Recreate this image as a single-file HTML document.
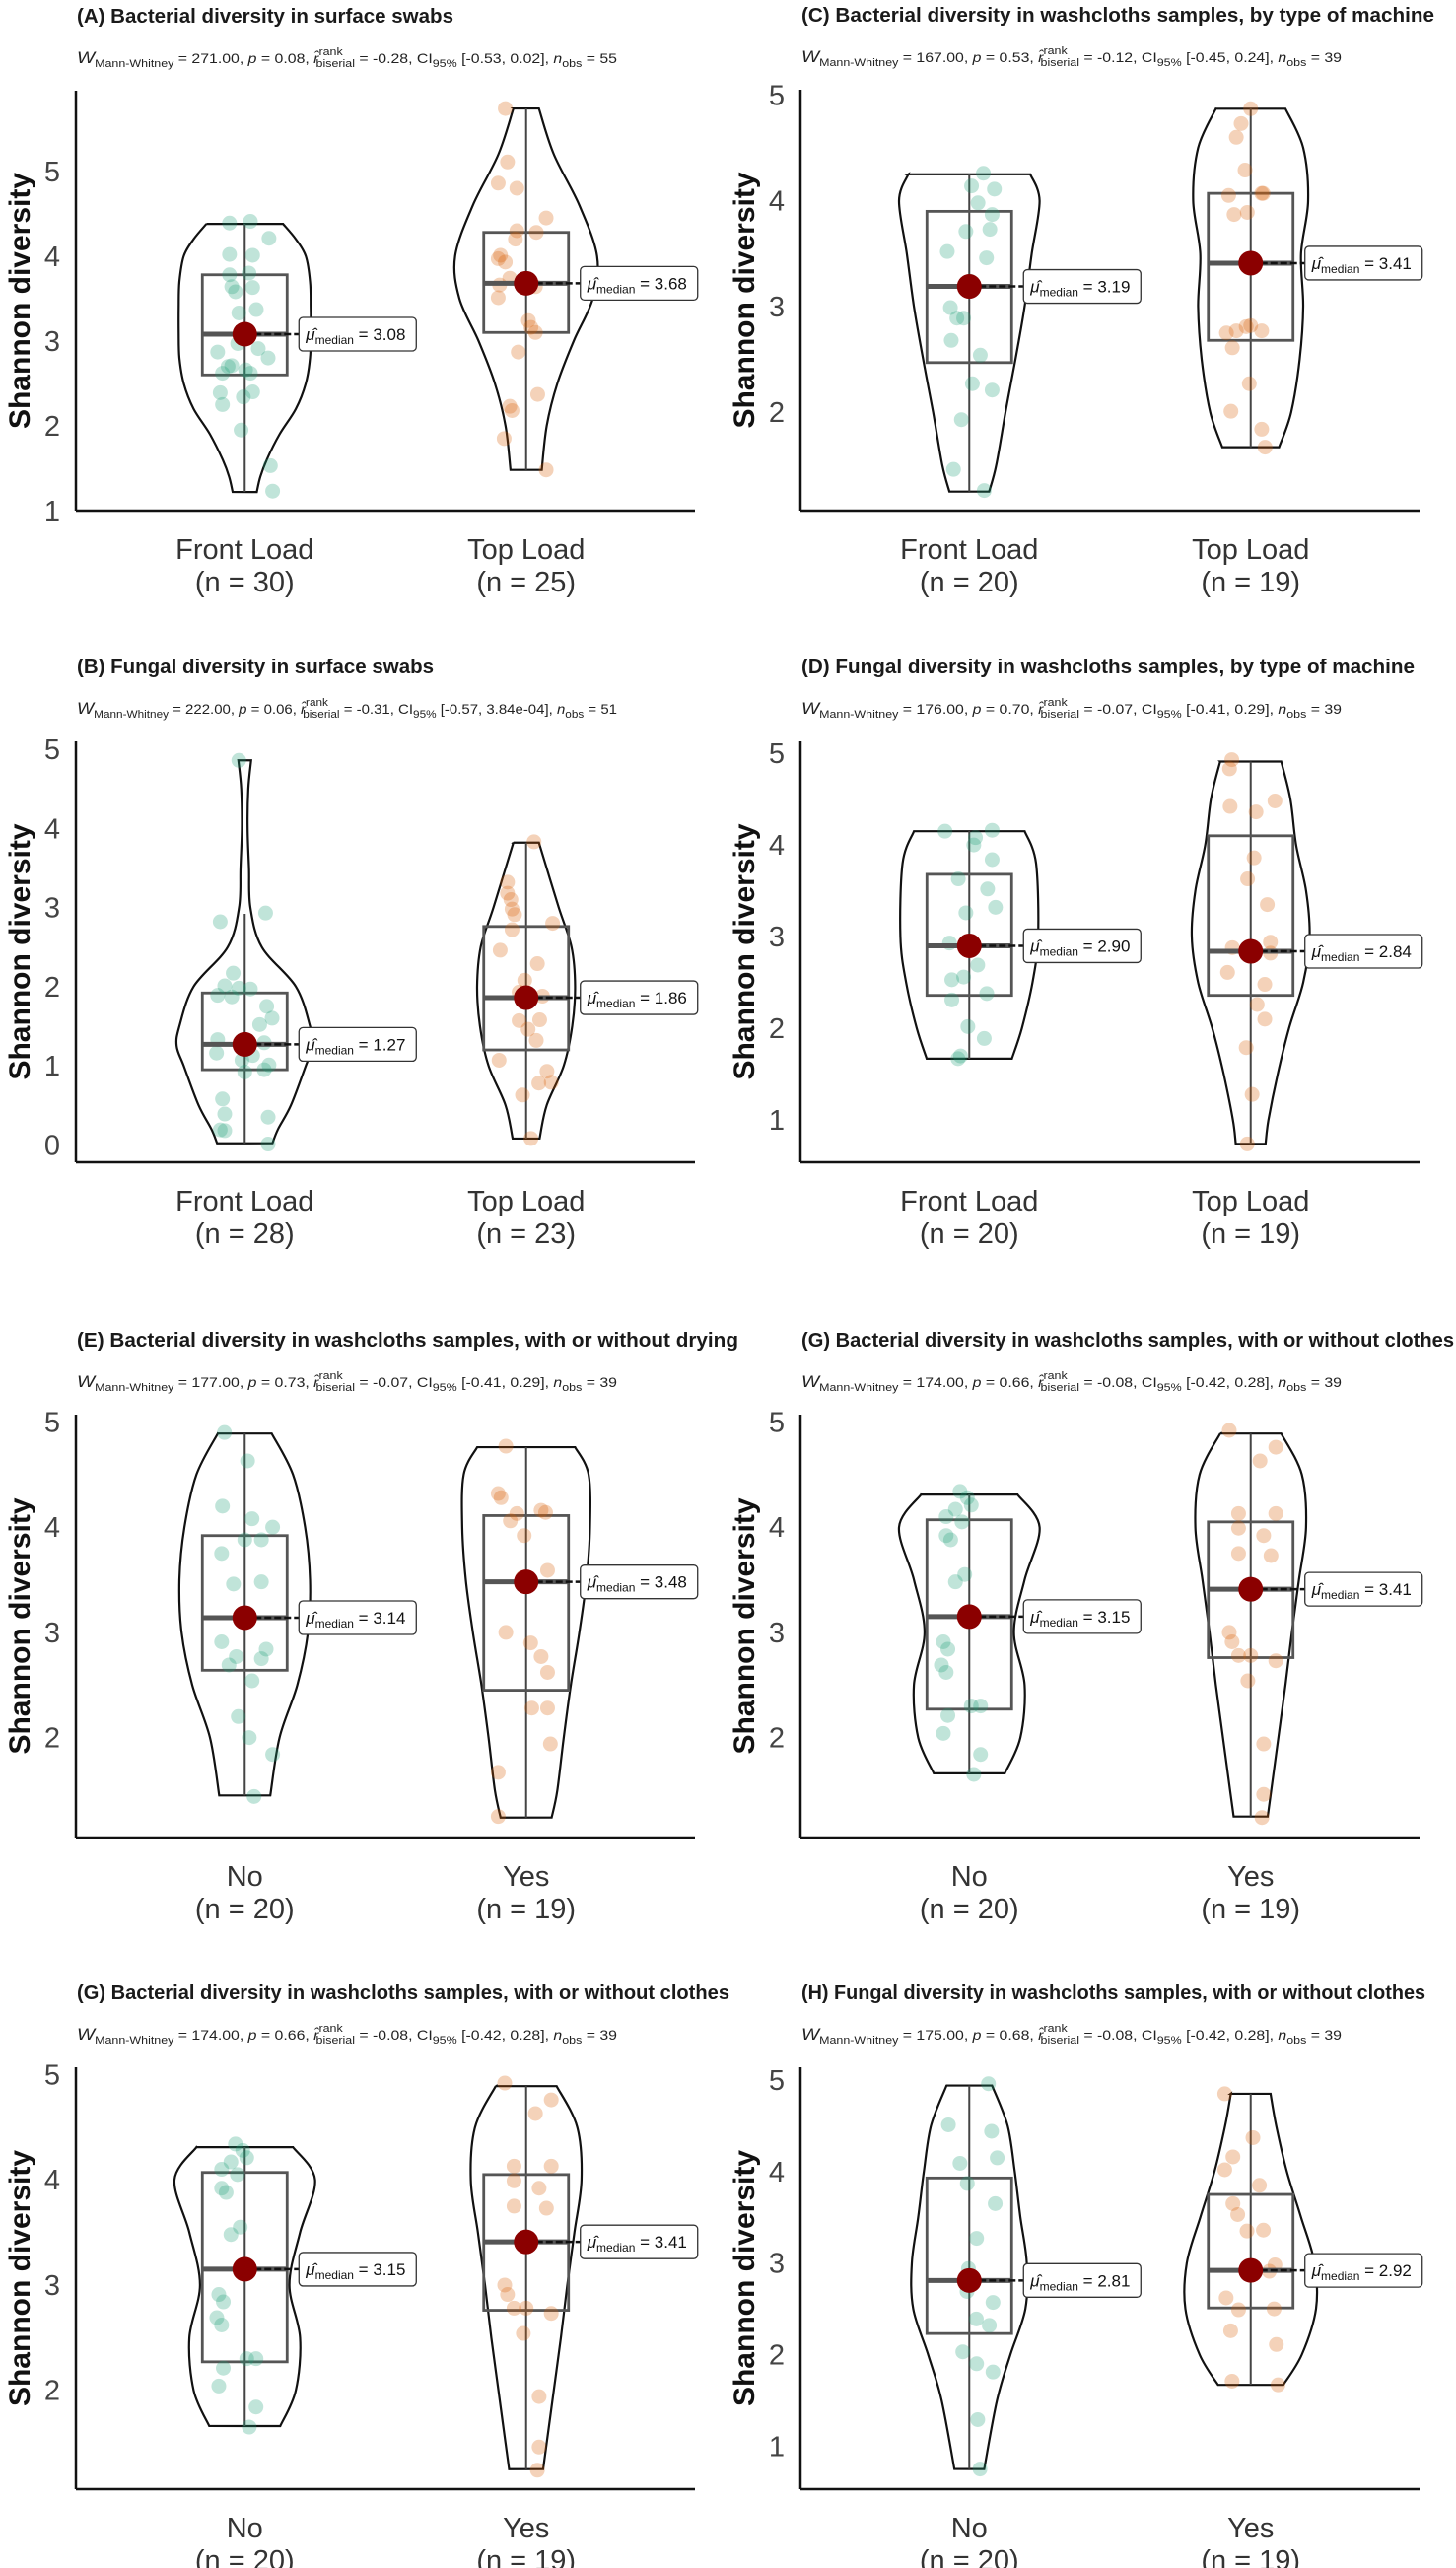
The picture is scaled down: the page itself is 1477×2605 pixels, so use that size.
<!DOCTYPE html>
<html><head><meta charset="utf-8"><title>Shannon diversity violin plots</title>
<style>
html,body{margin:0;padding:0;background:#fff;}
svg{display:block;font-family:"Liberation Sans",sans-serif;}
</style></head>
<body>
<svg id="fig" xmlns="http://www.w3.org/2000/svg" width="1477" height="2605" viewBox="0 0 1477 2605"></svg>
<script>
// ---------- DATA ----------
const A_cats=['Front Load','Top Load']; const A_n=[30,25];
const A_stats=['271.00','0.08','-0.28','-0.53','0.02','55'];
const A_g1_vals=[4.39,4.41,4.21,4.02,4.01,3.78,3.80,3.64,3.63,3.58,3.37,2.87,2.97,2.91,2.80,2.70,2.62,2.62,2.39,2.25,2.34,2.40,1.95,1.53,1.23,3.33,2.66,2.71];
const A_g1_jit=[-0.054,0.02,0.086,-0.054,0.028,-0.054,0.015,-0.046,0.028,-0.033,0.041,-0.096,-0.025,0.048,0.083,-0.059,-0.079,0.02,-0.087,-0.079,-0.005,0.028,-0.013,0.091,0.099,-0.021,0.003,-0.046];
const A_g1_box=[1.22,2.6,3.08,3.78,4.38];
const A_g1_vv=[4.38,4.2,4.0,3.7,3.4,3.1,2.8,2.5,2.2,1.9,1.6,1.4,1.22];
const A_g1_vw=[0.54,0.72,0.86,0.92,0.93,0.93,0.92,0.86,0.72,0.49,0.31,0.22,0.17];
const A_g2_vals=[5.74,5.11,4.86,4.80,4.45,4.30,4.28,4.20,4.01,3.93,3.97,3.66,3.51,3.64,3.24,3.16,3.10,2.87,2.37,2.23,2.18,1.85,1.48,3.74];
const A_g2_jit=[-0.074,-0.066,-0.099,-0.033,0.071,-0.033,0.036,-0.038,-0.091,-0.074,-0.099,-0.094,-0.099,0.033,0.008,0.017,0.033,-0.028,0.041,-0.058,-0.05,-0.078,0.071,-0.058];
const A_g2_box=[1.48,3.1,3.68,4.28,5.74];
const A_g2_vv=[5.74,5.2,4.6,4.0,3.5,3.0,2.5,2.0,1.48];
const A_g2_vw=[0.18,0.39,0.75,1,0.94,0.67,0.44,0.29,0.22];

const B_cats=['Front Load','Top Load']; const B_n=[28,23];
const B_stats=['222.00','0.06','-0.31','-0.57','3.84e-04','51'];
const B_g1_vals=[4.86,2.82,2.93,2.17,2.01,1.98,1.97,1.89,1.87,1.75,1.6,1.52,1.33,1.29,1.13,1.07,1.16,1.01,0.92,0.95,0.58,0.39,0.35,0.19,0.18,0.01];
const B_g1_jit=[-0.021,-0.087,0.074,-0.041,-0.071,-0.021,0.02,-0.096,-0.046,0.078,0.097,0.053,-0.096,0.069,0.028,-0.01,-0.1,0.086,0,0.069,-0.079,-0.071,0.083,-0.087,-0.071,0.083];
const B_g1_box=[0.02,0.95,1.27,1.92,2.92];
const B_g1_vv=[4.86,4.5,4.0,3.5,3.0,2.5,2.0,1.5,1.25,1.0,0.5,0.2,0.02];
const B_g1_vw=[0.09,0.05,0.04,0.06,0.08,0.24,0.72,0.92,0.96,0.86,0.65,0.47,0.39];
const B_g2_vals=[3.83,3.32,3.18,2.98,2.91,2.72,2.8,2.46,2.29,2.08,1.88,1.57,1.58,1.46,1.32,1.07,0.93,0.79,0.78,0.63,0.08,1.93,3.1];
const B_g2_jit=[0.028,-0.066,-0.066,-0.05,-0.041,-0.05,0.094,-0.092,0.04,-0.005,0.058,-0.025,0.048,0.007,0.036,-0.096,0.074,0.089,0.045,-0.013,0.017,-0.025,-0.054];
const B_g2_box=[0.08,1.2,1.86,2.76,3.82];
const B_g2_vv=[3.82,3.0,2.5,2.0,1.5,1.0,0.5,0.08];
const B_g2_vw=[0.18,0.46,0.64,0.69,0.65,0.53,0.29,0.19];

const C_cats=['Front Load','Top Load']; const C_n=[20,19];
const C_stats=['167.00','0.53','-0.12','-0.45','0.24','39'];
const C_g1_vals=[4.26,4.14,4.11,3.98,3.87,3.71,3.73,3.52,3.46,2.99,2.89,2.89,2.68,2.54,2.27,2.21,1.93,1.46,1.26,3.24];
const C_g1_jit=[0.05,0.008,0.089,0.031,0.081,-0.012,0.073,-0.078,0.061,-0.067,-0.044,-0.02,-0.064,0.039,0.011,0.081,-0.028,-0.056,0.053,0.003];
const C_g1_box=[1.25,2.47,3.19,3.9,4.25];
const C_g1_vv=[4.25,4.0,3.5,3.0,2.5,2.0,1.5,1.25];
const C_g1_vw=[0.86,0.99,0.88,0.78,0.65,0.51,0.38,0.28];
const C_g2_vals=[4.87,4.73,4.6,4.29,4.07,4.05,3.87,3.89,2.81,2.75,2.77,2.82,2.77,2.61,2.27,2.01,1.84,1.67,4.07];
const C_g2_jit=[0,-0.034,-0.051,-0.02,0.044,-0.078,-0.059,-0.012,-0.016,-0.086,-0.051,0,0.039,-0.065,-0.005,-0.07,0.039,0.051,0.039];
const C_g2_box=[1.67,2.68,3.41,4.07,4.87];
const C_g2_vv=[4.87,4.5,4.0,3.5,3.0,2.5,2.0,1.67];
const C_g2_vw=[0.49,0.74,0.81,0.71,0.74,0.69,0.57,0.4];

const D_cats=['Front Load','Top Load']; const D_n=[20,19];
const D_stats=['176.00','0.70','-0.07','-0.41','0.29','39'];
const D_g1_vals=[4.15,4.16,4.08,4.0,3.84,3.63,3.52,3.32,3.26,2.93,2.69,2.56,2.53,2.38,2.31,2.02,1.89,1.67,1.7];
const D_g1_jit=[-0.086,0.081,0.022,0.016,0.081,-0.039,0.065,0.093,-0.012,-0.07,0.03,-0.02,-0.062,0.062,-0.062,-0.005,0.053,-0.04,-0.031];
const D_g1_box=[1.67,2.36,2.90,3.68,4.15];
const D_g1_vv=[4.15,3.8,3.0,2.5,2.0,1.67];
const D_g1_vw=[0.78,0.94,0.97,0.89,0.74,0.6];
const D_g2_vals=[4.93,4.83,4.42,4.36,4.48,3.86,3.63,3.35,2.88,2.94,2.82,2.61,2.48,2.26,2.1,1.79,1.28,0.74];
const D_g2_jit=[-0.067,-0.075,-0.073,0.019,0.086,0.012,-0.011,0.059,-0.065,0.07,0.07,-0.082,0.05,0.023,0.05,-0.016,0.005,-0.012];
const D_g2_box=[0.74,2.36,2.84,4.1,4.91];
const D_g2_vv=[4.91,4.5,4.0,3.5,3.0,2.5,2.0,1.5,1.0,0.74];
const D_g2_vw=[0.43,0.56,0.64,0.78,0.83,0.74,0.54,0.38,0.25,0.21];

const E_cats=['No','Yes']; const E_n=[20,19];
const E_stats=['177.00','0.73','-0.07','-0.41','0.29','39'];
const E_g1_vals=[4.9,4.63,4.2,4.08,4.0,3.88,3.88,3.75,3.46,3.48,2.91,2.84,2.77,2.75,2.69,2.54,2.2,2.0,1.84,1.44];
const E_g1_jit=[-0.072,0.01,-0.079,0.026,0.099,0,0.059,-0.082,-0.04,0.059,-0.082,0.076,-0.03,0.059,-0.056,0.026,-0.023,0.016,0.099,0.033];
const E_g1_box=[1.45,2.64,3.14,3.92,4.89];
const E_g1_vv=[4.89,4.5,4.0,3.5,3.0,2.5,2.0,1.45];
const E_g1_vw=[0.38,0.68,0.85,0.92,0.89,0.74,0.49,0.36];
const E_g2_vals=[4.77,4.32,4.28,4.16,4.14,4.13,4.06,3.92,3.59,3.0,2.9,2.77,2.62,2.28,2.28,1.94,1.67,1.25,3.52];
const E_g2_jit=[-0.072,-0.099,-0.089,0.053,0.069,-0.033,-0.056,-0.007,0.076,-0.072,0.016,0.053,0.076,0.02,0.076,0.086,-0.099,-0.099,-0.013];
const E_g2_box=[1.24,2.45,3.48,4.11,4.76];
const E_g2_vv=[4.76,4.5,4.0,3.5,3.0,2.5,2.0,1.5,1.24];
const E_g2_vw=[0.69,0.88,0.9,0.85,0.75,0.63,0.53,0.44,0.36];

const G_cats=['No','Yes']; const G_n=[20,19];
const G_stats=['174.00','0.66','-0.08','-0.42','0.28','39'];
const G_g1_vals=[4.34,4.28,4.17,4.21,4.1,4.05,3.92,3.88,3.55,3.48,2.91,2.84,2.69,2.62,2.3,2.3,2.21,2.04,1.84,1.65];
const G_g1_jit=[-0.033,-0.007,-0.049,0.007,-0.082,-0.026,-0.082,-0.066,-0.016,-0.049,-0.092,-0.076,-0.099,-0.082,0.007,0.04,-0.076,-0.092,0.04,0.016];
const G_g1_box=[1.66,2.27,3.15,4.07,4.31];
const G_g1_vv=[4.31,4.0,3.5,3.0,2.5,2.0,1.66];
const G_g1_vw=[0.68,0.99,0.78,0.63,0.78,0.72,0.5];
const G_g2_vals=[4.92,4.76,4.63,4.13,4.13,3.99,3.92,3.75,3.73,3.0,2.91,2.78,2.78,2.73,2.54,1.94,1.46,1.24];
const G_g2_jit=[-0.076,0.089,0.033,-0.043,0.089,-0.043,0.046,-0.043,0.072,-0.076,-0.066,-0.043,0,0.089,-0.01,0.046,0.046,0.04];
const G_g2_box=[1.25,2.76,3.41,4.05,4.89];
const G_g2_vv=[4.89,4.5,4.0,3.5,3.0,2.5,2.0,1.5,1.25];
const G_g2_vw=[0.43,0.72,0.78,0.68,0.58,0.49,0.39,0.29,0.24];

const H_cats=['No','Yes']; const H_n=[20,19];
const H_stats=['175.00','0.68','-0.08','-0.42','0.28','39'];
const H_g1_vals=[4.96,4.51,4.44,4.15,4.09,3.87,3.65,3.27,2.69,2.57,2.39,2.32,2.03,1.9,1.81,1.29,0.75,2.94];
const H_g1_jit=[0.068,-0.074,0.079,0.099,-0.033,-0.007,0.092,0.026,-0.008,0.084,0.025,0.071,-0.023,0.026,0.084,0.03,0.038,-0.003];
const H_g1_box=[0.75,2.23,2.81,3.93,4.94];
const H_g1_vv=[4.94,4.5,4.0,3.5,3.0,2.5,2.0,1.5,0.75];
const H_g1_vw=[0.32,0.54,0.64,0.72,0.81,0.79,0.58,0.39,0.21];
const H_g2_vals=[4.85,4.37,4.16,4.02,3.85,3.65,3.53,3.35,3.36,2.98,2.91,2.62,2.49,2.5,2.26,2.11,1.71,1.67,2.97];
const H_g2_jit=[-0.092,0.008,-0.063,-0.092,0.031,-0.063,-0.046,-0.013,0.045,0.086,0.066,-0.087,-0.043,0.083,-0.071,0.091,-0.066,0.097,0];
const H_g2_box=[1.67,2.51,2.92,3.75,4.85];
const H_g2_vv=[4.85,4.5,4.0,3.5,3.0,2.5,2.0,1.67];
const H_g2_vw=[0.28,0.36,0.51,0.71,0.9,0.92,0.72,0.46];

// ---------- LAYOUT ----------
const panels=[
 {id:'a',title:'(A) Bacterial diversity in surface swabs',tw:382,x0:77,x1:705,yT:92,yB:518,dom:[1.0,5.95],ticks:[1,2,3,4,5],cats:A_cats,n:A_n,stats:A_stats,
  g:[[A_g1_vals,A_g1_jit,A_g1_box,A_g1_vv,A_g1_vw],[A_g2_vals,A_g2_jit,A_g2_box,A_g2_vv,A_g2_vw]]},
 {id:'c',title:'(C) Bacterial diversity in washcloths samples, by type of machine',tw:642,x0:812,x1:1440,yT:91,yB:518,dom:[1.07,5.05],ticks:[2,3,4,5],cats:C_cats,n:C_n,stats:C_stats,
  g:[[C_g1_vals,C_g1_jit,C_g1_box,C_g1_vv,C_g1_vw],[C_g2_vals,C_g2_jit,C_g2_box,C_g2_vv,C_g2_vw]]},
 {id:'b',title:'(B) Fungal diversity in surface swabs',tw:362,x0:77,x1:705,yT:752,yB:1179,dom:[-0.22,5.1],ticks:[0,1,2,3,4,5],cats:B_cats,n:B_n,stats:B_stats,
  g:[[B_g1_vals,B_g1_jit,B_g1_box,B_g1_vv,B_g1_vw],[B_g2_vals,B_g2_jit,B_g2_box,B_g2_vv,B_g2_vw]]},
 {id:'d',title:'(D) Fungal diversity in washcloths samples, by type of machine',tw:622,x0:812,x1:1440,yT:752,yB:1179,dom:[0.54,5.13],ticks:[1,2,3,4,5],cats:D_cats,n:D_n,stats:D_stats,
  g:[[D_g1_vals,D_g1_jit,D_g1_box,D_g1_vv,D_g1_vw],[D_g2_vals,D_g2_jit,D_g2_box,D_g2_vv,D_g2_vw]]},
 {id:'e',title:'(E) Bacterial diversity in washcloths samples, with or without drying',tw:671,x0:77,x1:705,yT:1435,yB:1864,dom:[1.05,5.07],ticks:[2,3,4,5],cats:E_cats,n:E_n,stats:E_stats,
  g:[[E_g1_vals,E_g1_jit,E_g1_box,E_g1_vv,E_g1_vw],[E_g2_vals,E_g2_jit,E_g2_box,E_g2_vv,E_g2_vw]]},
 {id:'g-top',title:'(G) Bacterial diversity in washcloths samples, with or without clothes',tw:662,x0:812,x1:1440,yT:1435,yB:1864,dom:[1.05,5.07],ticks:[2,3,4,5],cats:G_cats,n:G_n,stats:G_stats,
  g:[[G_g1_vals,G_g1_jit,G_g1_box,G_g1_vv,G_g1_vw],[G_g2_vals,G_g2_jit,G_g2_box,G_g2_vv,G_g2_vw]]},
 {id:'g',title:'(G) Bacterial diversity in washcloths samples, with or without clothes',tw:662,x0:77,x1:705,yT:2097,yB:2525,dom:[1.06,5.07],ticks:[2,3,4,5],cats:G_cats,n:G_n,stats:G_stats,
  g:[[G_g1_vals,G_g1_jit,G_g1_box,G_g1_vv,G_g1_vw],[G_g2_vals,G_g2_jit,G_g2_box,G_g2_vv,G_g2_vw]]},
 {id:'h',title:'(H) Fungal diversity in washcloths samples, with or without clothes',tw:633,x0:812,x1:1440,yT:2097,yB:2525,dom:[0.53,5.14],ticks:[1,2,3,4,5],cats:H_cats,n:H_n,stats:H_stats,
  g:[[H_g1_vals,H_g1_jit,H_g1_box,H_g1_vv,H_g1_vw],[H_g2_vals,H_g2_jit,H_g2_box,H_g2_vv,H_g2_vw]]}
];
const COLORS=['#1b9e77','#d95f02'];
const VH=72, BOXW=43, CAT_PX=286;

const NS='http://www.w3.org/2000/svg';
const svg=document.getElementById('fig');
function mk(tag,attrs,parent){const e=document.createElementNS(NS,tag);for(const k in attrs)e.setAttribute(k,attrs[k]);(parent||svg).appendChild(e);return e;}
function smooth(pts){let d='';for(let i=0;i<pts.length-1;i++){const p0=pts[Math.max(0,i-1)],p1=pts[i],p2=pts[i+1],p3=pts[Math.min(pts.length-1,i+2)];
 const c1=[p1[0]+(p2[0]-p0[0])/6,p1[1]+(p2[1]-p0[1])/6],c2=[p2[0]-(p3[0]-p1[0])/6,p2[1]-(p3[1]-p1[1])/6];
 d+=` C${c1[0].toFixed(1)},${c1[1].toFixed(1)} ${c2[0].toFixed(1)},${c2[1].toFixed(1)} ${p2[0].toFixed(1)},${p2[1].toFixed(1)}`;}return d;}

panels.forEach(P=>{
 const g=mk('g',{});
 
 
 const y=v=>P.yB-(v-P.dom[0])/(P.dom[1]-P.dom[0])*(P.yB-P.yT);
 const xc=i=>P.x0+(P.x1-P.x0)*((i+1-0.4)/2.2);
 // title
 const t=mk('text',{x:P.x0+1,y:P.yT-69,'font-size':20,'font-weight':'bold',fill:'#1a1a1a',textLength:P.tw,lengthAdjust:'spacingAndGlyphs'},g);
 t.textContent=P.title;
 
 
 // subtitle
 const s=P.stats;
 const st=mk('text',{x:P.x0+1,y:P.yT-28,'font-size':14,fill:'#222',textLength:548,lengthAdjust:'spacingAndGlyphs'},g);
 
 
 st.innerHTML=`<tspan font-style="italic" font-size="17">W</tspan><tspan font-size="11" dy="4">Mann-Whitney</tspan><tspan dy="-4"> = ${s[0]}, </tspan><tspan font-style="italic">p</tspan><tspan> = ${s[1]}, </tspan><tspan font-style="italic">r̂</tspan><tspan font-size="11" dy="-8">rank</tspan><tspan font-size="11" dx="-24" dy="12">biserial</tspan><tspan dy="-4"> = ${s[2]}, CI</tspan><tspan font-size="11" dy="4">95%</tspan><tspan dy="-4"> [${s[3]}, ${s[4]}], </tspan><tspan font-style="italic">n</tspan><tspan font-size="11" dy="4">obs</tspan><tspan dy="-4"> = ${s[5]}</tspan>`;
 // axes
 const ya=mk('line',{x1:P.x0,y1:P.yT,x2:P.x0,y2:P.yB,stroke:'#111','stroke-width':2.5},g);
 
 
 const xa=mk('line',{x1:P.x0,y1:P.yB,x2:P.x1,y2:P.yB,stroke:'#111','stroke-width':2.5},g);
 
 
 P.ticks.forEach(tv=>{
  const tl=mk('text',{x:P.x0-16,y:y(tv)+10,'font-size':29,fill:'#444','text-anchor':'end'},g);
  tl.textContent=tv;
  
  
 });
 const yt=mk('text',{x:0,y:0,'font-size':30,'font-weight':'bold',fill:'#111','text-anchor':'middle',transform:`translate(${P.x0-47},${(P.yT+P.yB)/2}) rotate(-90)`},g);
 yt.textContent='Shannon diversity';
 
 
 P.cats.forEach((c,i)=>{
  const l1=mk('text',{x:xc(i),y:P.yB+49,'font-size':29,fill:'#333','text-anchor':'middle'},g);
  l1.textContent=c;
  
  
  const l2=mk('text',{x:xc(i),y:P.yB+82,'font-size':29,fill:'#333','text-anchor':'middle'},g);
  l2.textContent='(n = '+P.n[i]+')';
  
  
 });
 P.g.forEach((G,i)=>{
  const [vals,jit,box,vv,vw]=G; const cx=xc(i);
  const right=vv.map((v,k)=>[cx+vw[k]*VH,y(v)]);
  const left=vv.map((v,k)=>[cx-vw[k]*VH,y(v)]).reverse();
  const d=`M${left[left.length-1][0]},${left[left.length-1][1]} L${right[0][0]},${right[0][1]}`+smooth(right)+` L${left[0][0]},${left[0][1]}`+smooth(left)+' Z';
  const vp=mk('path',{d:d,fill:'#fff',stroke:'#111','stroke-width':2.2},g);
  
  
  const w1=mk('line',{x1:cx,y1:y(box[0]),x2:cx,y2:y(box[4]),stroke:'#444','stroke-width':2},g);
  
  
  const bx=mk('rect',{x:cx-BOXW,y:y(box[3]),width:2*BOXW,height:y(box[1])-y(box[3]),fill:'#fff','fill-opacity':0,stroke:'#555','stroke-width':2.8},g);
  
  
  vals.forEach((v,k)=>{
   const pt=mk('circle',{cx:cx+jit[k]*CAT_PX,cy:y(v),r:7.5,fill:COLORS[i],'fill-opacity':0.28},g);
   
   
  });
  const ml=mk('line',{x1:cx-BOXW,y1:y(box[2]),x2:cx+BOXW,y2:y(box[2]),stroke:'#555','stroke-width':5},g);
  
  
  const dl=mk('line',{x1:cx,y1:y(box[2]),x2:cx+55,y2:y(box[2]),stroke:'#111','stroke-width':2.5,'stroke-dasharray':'7,3'},g);
  
  
  const dot=mk('circle',{cx:cx,cy:y(box[2]),r:12.5,fill:'#8b0000'},g);
  
  
  const lb=mk('rect',{x:cx+55,y:y(box[2])-17,width:119,height:34,rx:4,fill:'#fff',stroke:'#333','stroke-width':1.3},g);
  
  
  const lt=mk('text',{x:cx+62,y:y(box[2])+6,'font-size':17,fill:'#111'},g);
  
  
  lt.innerHTML=`<tspan font-style="italic">μ̂</tspan><tspan font-size="12" dy="4">median</tspan><tspan dy="-4"> = ${box[2].toFixed(2)}</tspan>`;
 });
});
</script>
</body></html>
